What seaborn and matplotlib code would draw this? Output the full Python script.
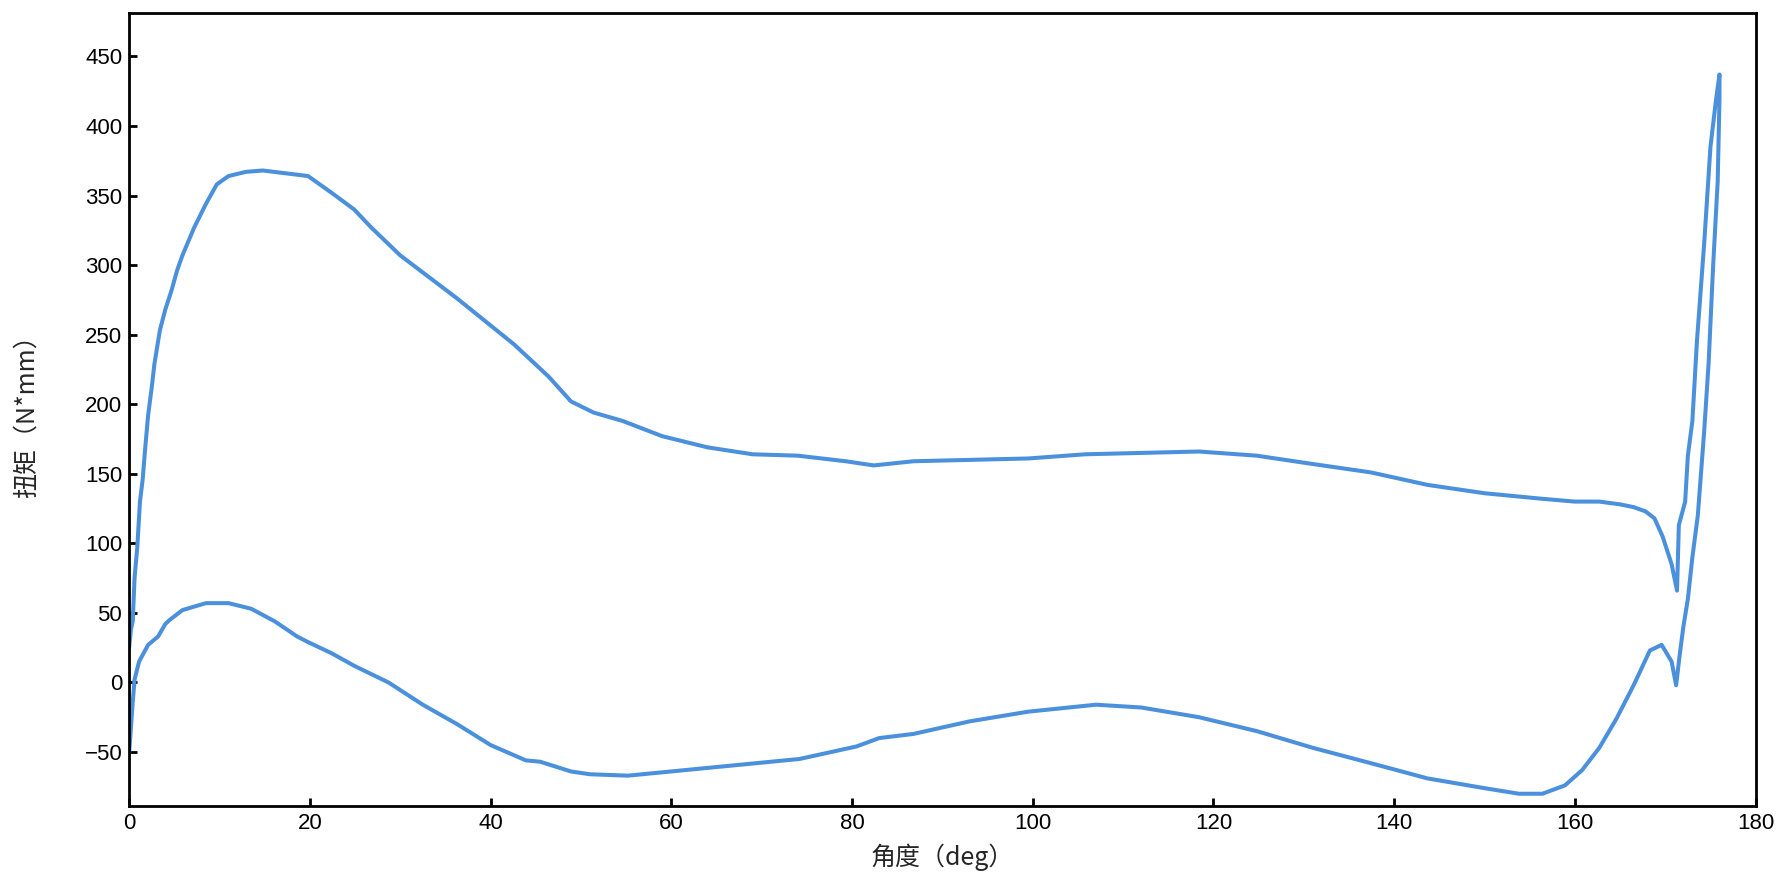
import matplotlib
matplotlib.use("Agg")
import matplotlib.pyplot as plt
import seaborn as sns
import pandas as pd

# Loading branch (angle deg, torque N*mm)
up_angle = [0.0, 0.2, 0.4, 0.6, 0.9, 1.2, 1.5, 1.8, 2.1, 2.5, 2.8, 3.4, 4.0, 4.7, 5.3, 5.9, 7.2, 8.5, 9.7,
            11.0, 12.9, 14.8, 17.3, 19.8, 22.4, 24.9, 26.8, 30.0, 36.3, 42.6, 46.4, 48.9, 51.4, 54.6,
            59.0, 64.0, 69.0, 74.0, 79.3, 82.4, 86.8, 93.0, 99.5, 105.8, 112.0, 118.4, 124.8, 131.0,
            137.4, 143.7, 150.0, 156.4, 160.0, 162.7, 165.0, 166.5, 167.8, 168.8, 169.7, 170.7, 171.3,
            171.5, 172.2, 172.5, 173.0, 173.5, 174.3, 175.0, 175.6, 176.0]
up_torque = [25, 38, 44, 75, 97, 130, 146, 170, 192, 212, 229, 253, 268, 282, 296, 307, 327, 344, 358,
             364, 367, 368, 366, 364, 352, 340, 327, 307, 276, 243, 220, 202, 194, 188,
             177, 169, 164, 163, 159, 156, 159, 160, 161, 164, 165, 166, 163, 157,
             151, 142, 136, 132, 130, 130, 128, 126, 123, 118, 105, 85, 66,
             113, 130, 163, 188, 245, 315, 385, 418, 437]

# Unloading branch
down_angle = [176.0, 175.8, 175.3, 174.8, 174.3, 173.6, 173.0, 172.5, 172.0, 171.6, 171.2, 170.7,
              169.6, 168.3, 166.5, 164.6, 162.7, 160.8, 158.9, 156.4, 153.8, 150.0, 143.7, 137.4,
              131.0, 124.8, 118.4, 112.0, 107.0, 99.5, 93.0, 86.8, 83.0, 80.5, 74.2, 67.9, 61.6, 55.2,
              51.0, 48.9, 45.5, 43.9, 40.0, 36.3, 32.5, 28.7, 24.9, 22.4, 19.8, 18.6, 16.1, 13.5, 11.0,
              8.5, 5.9, 4.5, 4.0, 3.2, 2.1, 1.1, 0.6, 0.4, 0.0]
down_torque = [420, 360, 300, 230, 180, 120, 90, 60, 40, 20, -2, 15,
               27, 23, -2, -26, -47, -63, -74, -80, -80, -76, -69, -58,
               -47, -35, -25, -18, -16, -21, -28, -37, -40, -46, -55, -59, -63, -67,
               -66, -64, -57, -56, -45, -30, -16, 0, 12, 21, 29, 33, 44, 53, 57,
               57, 52, 45, 42, 33, 27, 15, 2, -14, -51]

df = pd.DataFrame({
    "angle": up_angle + down_angle,
    "torque": up_torque + down_torque,
})

sns.set_theme(style="white")
plt.rcParams["font.family"] = ["Noto Sans CJK SC", "DejaVu Sans"]

fig = plt.figure(figsize=(17.86, 8.86), dpi=100)
ax = fig.add_axes([0.0723, 0.090, 0.9107, 0.895])

sns.lineplot(data=df, x="angle", y="torque", sort=False, estimator=None,
             color="#4a90dc", linewidth=2.9, ax=ax)

ax.set_xlim(0, 180)
ax.set_ylim(-89, 481)
ax.set_xticks(range(0, 181, 20))
ax.set_yticks(range(-50, 451, 50))
ax.set_xlabel("角度（deg）", fontsize=18, labelpad=7)
ax.set_ylabel("扭矩（N*mm）", fontsize=18, labelpad=32)
ax.tick_params(axis="both", direction="in", length=6, width=2, labelsize=16,
               bottom=True, left=True, top=False, right=False, colors="black", pad=5)
for lab in ax.get_xticklabels() + ax.get_yticklabels():
    lab.set_family(["Liberation Sans", "DejaVu Sans"])
for s in ax.spines.values():
    s.set_linewidth(2)
    s.set_color("black")

fig.savefig("out.png", dpi=100)
